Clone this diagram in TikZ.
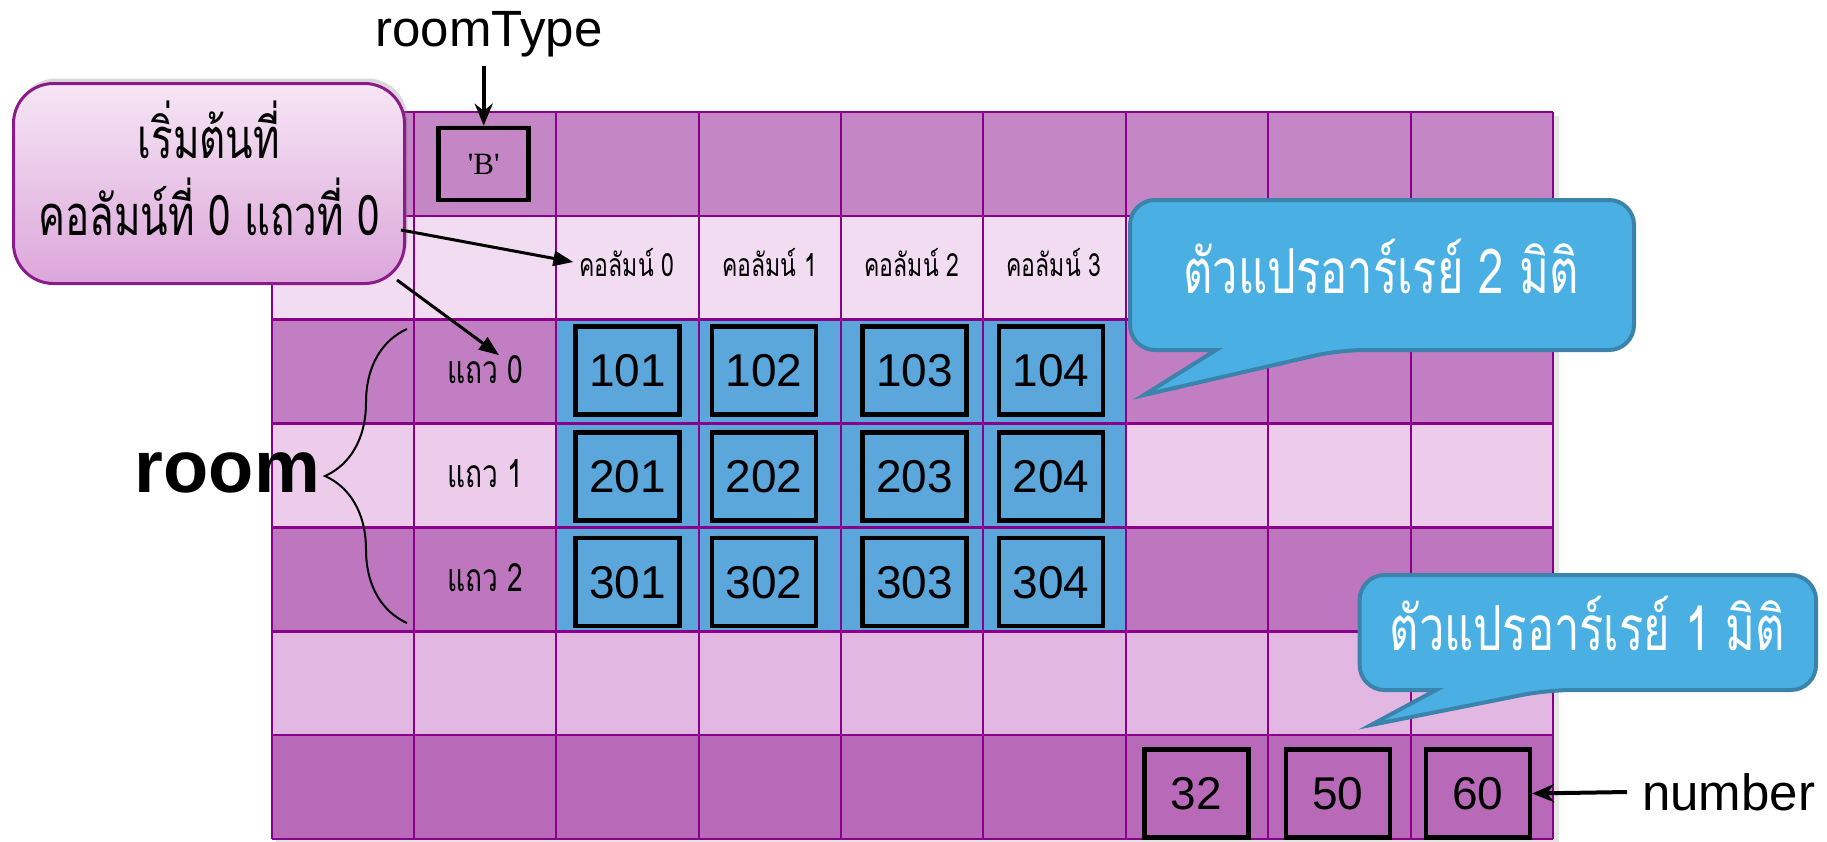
\documentclass[tikz,border=0pt]{standalone}
\usepackage{fontspec}
\usetikzlibrary{arrows.meta,decorations.pathreplacing,shadows}
\newfontfamily\sansA{Liberation Sans}
\newfontfamily\serifA{Liberation Serif}
\newfontfamily\thaiA[Script=Thai,FakeStretch=0.72]{Loma}
\newfontfamily\thaiB[Script=Thai,FakeStretch=0.73]{Loma}
\definecolor{rowA}{HTML}{C486C4}
\definecolor{rowB}{HTML}{F2DCF1}
\definecolor{rowC}{HTML}{C27EC2}
\definecolor{rowD}{HTML}{ECCCEA}
\definecolor{rowE}{HTML}{BE76BE}
\definecolor{rowF}{HTML}{E2B8E2}
\definecolor{rowG}{HTML}{B86AB8}
\definecolor{gridline}{HTML}{8A008A}
\definecolor{cellblue}{HTML}{5BA7DC}
\definecolor{bubblefill}{HTML}{4AB0E3}
\definecolor{bubbleedge}{HTML}{3A84AB}
\definecolor{pinktop}{HTML}{F6E6F5}
\definecolor{pinkbottom}{HTML}{DCA6DA}
\definecolor{pinkedge}{HTML}{8B1A8B}
\tikzset{
  gridrule/.style={draw=gridline, line width=2},
  numbox/.style={draw=black, line width=4.5, minimum width=104, minimum height=88,
    inner sep=0, font=\sansA\fontsize{46}{50}\selectfont,
    drop shadow={shadow xshift=2, shadow yshift=-3, opacity=0.35}},
  bubble/.style={fill=bubblefill, draw=bubbleedge, line width=4},
  bubbletext/.style={text=white, inner sep=0, anchor=base,
    font=\thaiB\fontsize{62}{66}\selectfont},
  headtext/.style={inner sep=0, anchor=base, font=\thaiA\fontsize{32}{36}\selectfont},
  rowtext/.style={inner sep=0, anchor=base, font=\thaiA\fontsize{39}{43}\selectfont},
  bigtext/.style={inner sep=0, font=\sansA\fontsize{51}{55}\selectfont},
  pointer/.style={draw=black, line width=3, -{Triangle[length=20,width=15]}},
  heavyarrow/.style={draw=black, line width=4, -{Stealth[length=22,width=18]}},
}
\begin{document}
\begin{tikzpicture}[x=1pt,y=-1pt]
\useasboundingbox (0,0) rectangle (1827,841);

% soft shadow behind the table
\fill[black, opacity=0.10] (276,116) rectangle (1559,845);
% table rows, top to bottom
\foreach \r/\c in {0/rowA,1/rowB,2/rowC,3/rowD,4/rowE,5/rowF,6/rowG}
  \fill[\c] (271.5,{111.9+\r*103.87}) rectangle (1553,{111.9+(\r+1)*103.87});
% the block that holds the two-dimensional array
\fill[cellblue] (556.3,319.6) rectangle (1125.8,631.3);
% cell borders
\foreach \i in {0,...,9}
  \draw[gridrule] ({271.5+\i*142.39},111.9) -- ({271.5+\i*142.39},839);
\foreach \j in {0,...,7}
  \draw[gridrule, line width=2.5] (271.5,{111.9+\j*103.87}) -- (1553,{111.9+\j*103.87});

% char variable
\node[numbox, fill=rowA, minimum width=90, minimum height=72,
      font=\serifA\fontsize{31}{35}\selectfont] (bB) at (483.7,163.9) {'B'};
\node[bigtext, anchor=base] (rt) at (489,46.7) {roomType};
\coordinate (rtfoot) at (483.7,66);
\draw[heavyarrow] (rtfoot) -- (bB.north);

% column and row captions
\node[headtext] (c0) at (627,276) {คอลัมน์ 0};
\node[headtext] (c1) at (769.5,276) {คอลัมน์ 1};
\node[headtext] (c2) at (912,276) {คอลัมน์ 2};
\node[headtext] (c3) at (1054,276) {คอลัมน์ 3};
\node[rowtext] (r0) at (485,383.3) {แถว 0};
\node[rowtext] (r1) at (485,487.5) {แถว 1};
\node[rowtext] (r2) at (485,591.5) {แถว 2};

% two-dimensional array room[3][4]
\foreach \yy/\rr in {370.5/1,476.4/2,582.2/3}
  \foreach \xx/\cc in {627.6/1,763.9/2,914.5/3,1050.9/4}
    \node[numbox, fill=cellblue] (m\rr\cc) at (\xx,\yy) {\rr0\cc};

% one-dimensional array number[3]
\node[numbox, fill=rowG] (n1) at (1196.3,793.5) {32};
\node[numbox, fill=rowG] (n2) at (1337.8,793.5) {50};
\node[numbox, fill=rowG] (n3) at (1477.8,793.5) {60};
\node[bigtext, anchor=base west] (numlabel) at (1642,810) {number};
\coordinate (numtail) at (1627,792);
\draw[heavyarrow] (numtail) -- (n3.east);

% brace and name of the 2D array
\coordinate (brlow) at (407,623);
\coordinate (brhigh) at (407,329);
\draw[line width=2, decorate, decoration={brace, amplitude=82}] (brlow) -- (brhigh);
\node[inner sep=0, anchor=base east, font=\sansA\bfseries\fontsize{74}{78}\selectfont]
  (roomname) at (320,492) {room};

% starting-point note
\node[draw=pinkedge, line width=3, rounded corners=40, top color=pinktop,
      bottom color=pinkbottom, minimum width=391, minimum height=200,
      drop shadow={shadow xshift=3, shadow yshift=-5, opacity=0.3}]
  (start) at (209,183.5) {};
\node[inner sep=0, anchor=base, font=\thaiA\fontsize{56}{60}\selectfont]
  (startA) at (209,158) {เริ่มต้นที่};
\node[inner sep=0, anchor=base, font=\thaiA\fontsize{56}{60}\selectfont]
  (startB) at (209,235) {คอลัมน์ที่ 0 แถวที่ 0};
\coordinate (s1) at (401,230);
\coordinate (s2) at (397,280);
\draw[pointer] (s1) -- ([xshift=-6]c0.west);
\draw[pointer] (s2) -- ([xshift=14]r0.north);

% speech bubbles
\filldraw[bubble] (1216,350) [rounded corners=25] -- (1130,350) -- (1130,200)
  -- (1634,200) -- (1634,350) -- (1339,350) [sharp corners] -- (1144,395) -- cycle;
\node[bubbletext] (two) at (1381,293) {ตัวแปรอาร์เรย์ 2 มิติ};
\filldraw[bubble] (1436,690) [rounded corners=25] -- (1359.6,690) -- (1359.6,575)
  -- (1816,575) -- (1816,690) -- (1547,690) [sharp corners] -- (1371,725) -- cycle;
\node[bubbletext] (one) at (1587.5,650) {ตัวแปรอาร์เรย์ 1 มิติ};
\end{tikzpicture}
\end{document}
